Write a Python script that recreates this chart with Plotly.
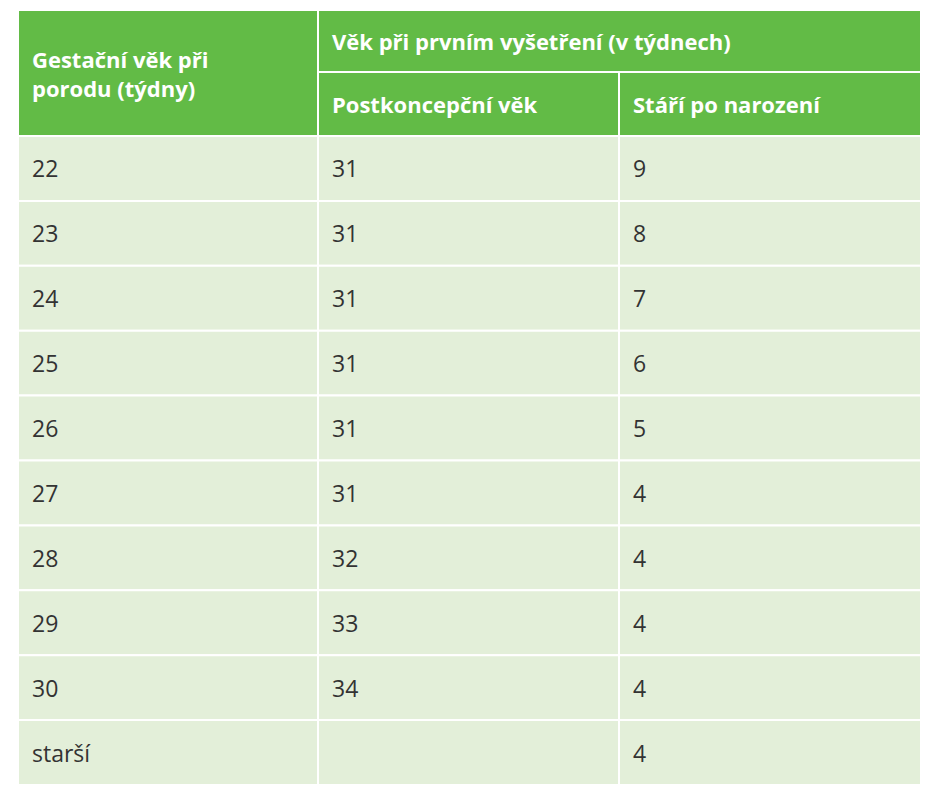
import plotly.graph_objects as go

header_left = "Gestační věk při<br>porodu (týdny)"
header_group = "Věk při prvním vyšetření (v týdnech)"
sub_headers = ["Postkoncepční věk", "Stáří po narození"]
gest_age = ["22", "23", "24", "25", "26", "27", "28", "29", "30", "starší"]
postconc = ["31", "31", "31", "31", "31", "31", "32", "33", "34", ""]
after_birth = ["9", "8", "7", "6", "5", "4", "4", "4", "4", "4"]

W, H = 940, 800
OFF = 8  # page body margin compensation
cols = [18, 318, 619, 921]
top, mid, hbot = 10, 72, 136
row_h = (785 - hbot) / len(gest_age)
HEAD = "#62BB46"
BODY = "#E3EFD9"
LINE = "white"
font_head = dict(family="Open Sans", size=22, color="white")
font_body = dict(family="Open Sans", size=23, color="#333333")

shapes, ann = [], []
def rect(x0, y0, x1, y1, fill):
    shapes.append(dict(type="rect", xref="x", yref="y", x0=x0, y0=y0, x1=x1, y1=y1,
                       fillcolor=fill, line=dict(color=LINE, width=2), layer="below"))
def text(x, y, t, f):
    ann.append(dict(x=x, y=y, xref="x", yref="y", text=t, showarrow=False,
                    xanchor="left", yanchor="middle", align="left", font=f))

rect(cols[0], top, cols[1], hbot, HEAD)
text(cols[0] + 12, (top + hbot) / 2, "<b>" + header_left + "</b>", font_head)
rect(cols[1], top, cols[3], mid, HEAD)
text(cols[1] + 12, (top + mid) / 2, "<b>" + header_group + "</b>", font_head)
for i, s in enumerate(sub_headers):
    rect(cols[1 + i], mid, cols[2 + i], hbot, HEAD)
    text(cols[1 + i] + 12, (mid + hbot) / 2, "<b>" + s + "</b>", font_head)

for r, vals in enumerate(zip(gest_age, postconc, after_birth)):
    y0 = hbot + r * row_h
    for c, v in enumerate(vals):
        rect(cols[c], y0, cols[c + 1], y0 + row_h, BODY)
        if v:
            text(cols[c] + 12, y0 + row_h / 2, v, font_body)

fig = go.Figure()
fig.update_layout(width=W, height=H, margin=dict(l=0, r=0, t=0, b=0),
                  paper_bgcolor="white", plot_bgcolor="white",
                  shapes=shapes, annotations=ann,
                  xaxis=dict(range=[OFF, W + OFF], visible=False),
                  yaxis=dict(range=[H + OFF, OFF], visible=False))
fig.write_html("out.html")
